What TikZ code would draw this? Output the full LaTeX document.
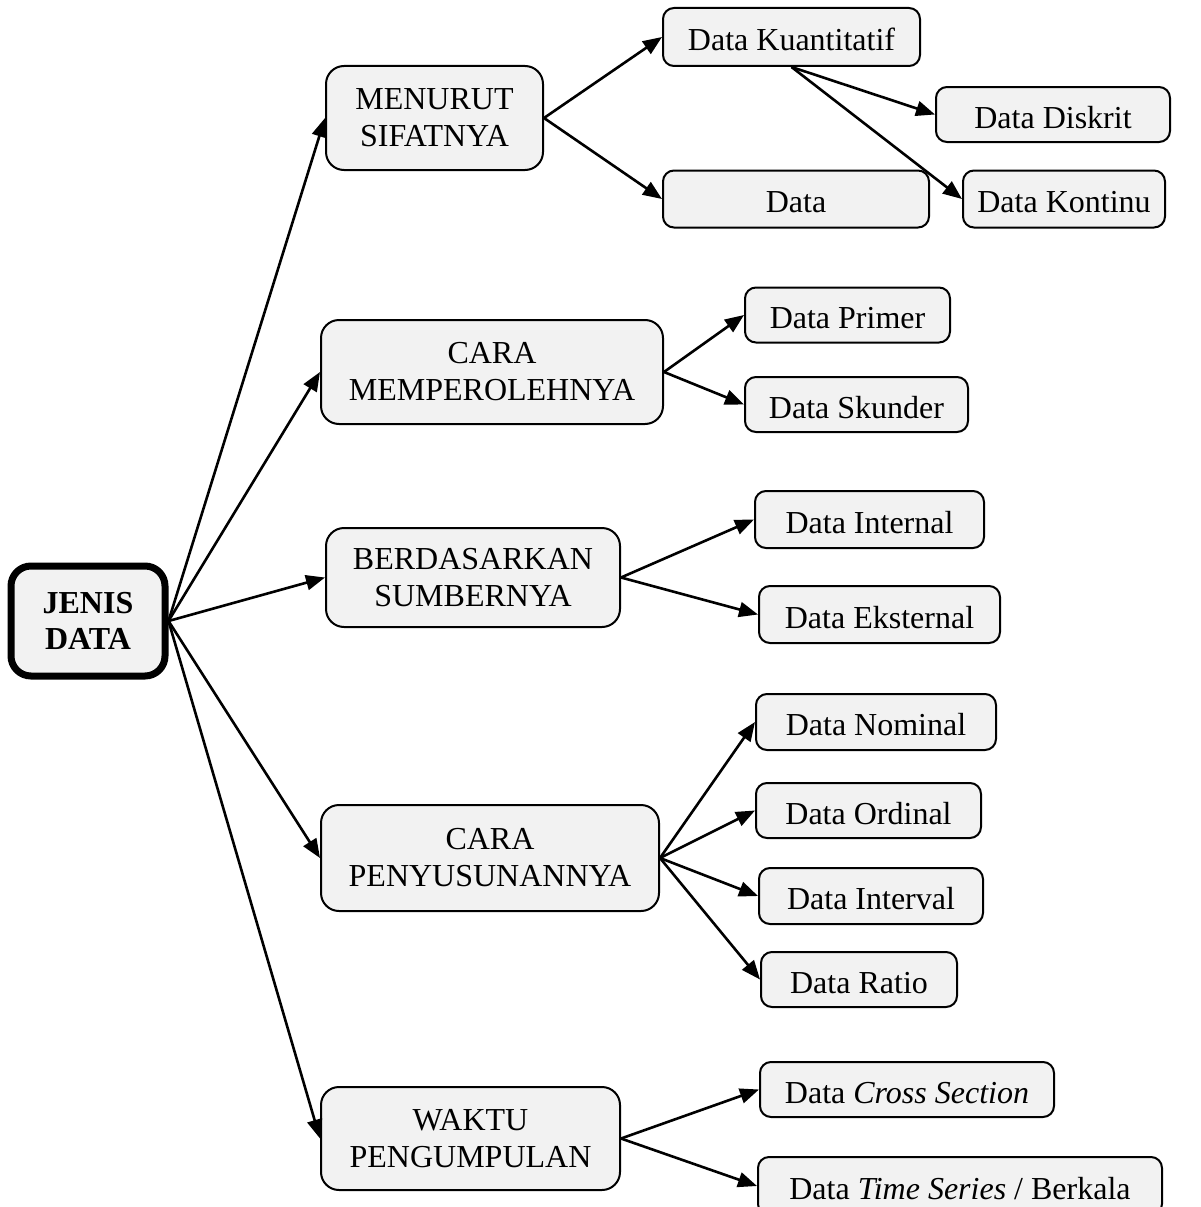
\documentclass[tikz,border=0pt]{standalone}
\usepackage{fontspec}
\setmainfont{Liberation Serif}
\usetikzlibrary{arrows.meta}
\definecolor{boxfill}{HTML}{F2F2F2}
\tikzset{
  box/.style={draw=black, fill=boxfill, line width=2pt, rounded corners=11pt,
    inner sep=0pt, align=center, font=\fontsize{32}{37}\selectfont},
  leaf/.style={box, text height=27pt, text depth=0pt},
  bigbox/.style={box, rounded corners=18pt},
  rootbox/.style={box, line width=7pt, rounded corners=20pt, font=\fontsize{32}{36}\selectfont\bfseries},
  conn/.style={line width=2.6pt, -{Triangle[length=19pt,width=15pt]}}
}
\begin{document}
\begin{tikzpicture}[x=1pt,y=-1pt]
\useasboundingbox (0,0) rectangle (1200,1207);
\clip (0,0) rectangle (1200,1207);
\fill[white] (0,0) rectangle (1200,1207);

\node[rootbox, minimum width=154pt, minimum height=110pt] (jenis) at (88,621) {JENIS\\DATA};

\node[bigbox, minimum width=217pt, minimum height=104pt] (sifat) at (434.5,118) {MENURUT\\SIFATNYA};
\node[bigbox, minimum width=342pt, minimum height=104pt] (peroleh) at (492,372) {CARA\\MEMPEROLEHNYA};
\node[bigbox, minimum width=294pt, minimum height=99pt] (sumber) at (473,577.5) {BERDASARKAN\\SUMBERNYA};
\node[bigbox, minimum width=338pt, minimum height=106pt] (susun) at (490,858) {CARA\\PENYUSUNANNYA};
\node[bigbox, minimum width=299pt, minimum height=103pt] (waktu) at (470.5,1138.5) {WAKTU\\PENGUMPULAN};

\node[leaf, minimum width=257pt, minimum height=58pt] (kuant) at (791.5,37) {Data Kuantitatif};
\node[leaf, minimum width=234pt, minimum height=55pt] (diskrit) at (1053,114.5) {Data Diskrit};
\node[leaf, minimum width=266pt, minimum height=57pt] (kual) at (796,199) {Data};
\node[leaf, minimum width=202pt, minimum height=57pt] (kontinu) at (1064,199) {Data Kontinu};

\node[leaf, minimum width=205pt, minimum height=55pt] (primer) at (847.5,315) {Data Primer};
\node[leaf, minimum width=223pt, minimum height=55pt] (skunder) at (856.5,404.5) {Data Skunder};

\node[leaf, minimum width=229pt, minimum height=57pt] (internal) at (869.5,519.5) {Data Internal};
\node[leaf, minimum width=241pt, minimum height=57pt] (eksternal) at (879.5,614.5) {Data Eksternal};

\node[leaf, minimum width=240pt, minimum height=56pt] (nominal) at (876,722) {Data Nominal};
\node[leaf, minimum width=225pt, minimum height=55pt] (ordinal) at (868.5,810.5) {Data Ordinal};
\node[leaf, minimum width=224pt, minimum height=56pt] (interval) at (871,896) {Data Interval};
\node[leaf, minimum width=196pt, minimum height=55pt] (ratio) at (859,979.5) {Data Ratio};

\node[leaf, minimum width=294pt, minimum height=55pt] (cross) at (907,1089.5) {Data \textit{Cross Section}};
\node[leaf, minimum width=404pt, minimum height=58pt] (time) at (960,1186) {Data \textit{Time Series} / Berkala};

\draw[conn] (jenis.east) -- (sifat.west);
\draw[conn] (jenis.east) -- (peroleh.west);
\draw[conn] (jenis.east) -- (sumber.west);
\draw[conn] (jenis.east) -- (susun.west);
\draw[conn] (jenis.east) -- (waktu.west);

\draw[conn] (sifat.east) -- (kuant.west);
\draw[conn] (sifat.east) -- (kual.west);
\draw[conn] (kuant.south) -- (diskrit.west);
\draw[conn] (kuant.south) -- (kontinu.west);

\draw[conn] (peroleh.east) -- (primer.west);
\draw[conn] (peroleh.east) -- (skunder.west);

\draw[conn] (sumber.east) -- (internal.west);
\draw[conn] (sumber.east) -- (eksternal.west);

\draw[conn] (susun.east) -- (nominal.west);
\draw[conn] (susun.east) -- (ordinal.west);
\draw[conn] (susun.east) -- (interval.west);
\draw[conn] (susun.east) -- (ratio.west);

\draw[conn] (waktu.east) -- (cross.west);
\draw[conn] (waktu.east) -- (time.west);
\end{tikzpicture}
\end{document}
